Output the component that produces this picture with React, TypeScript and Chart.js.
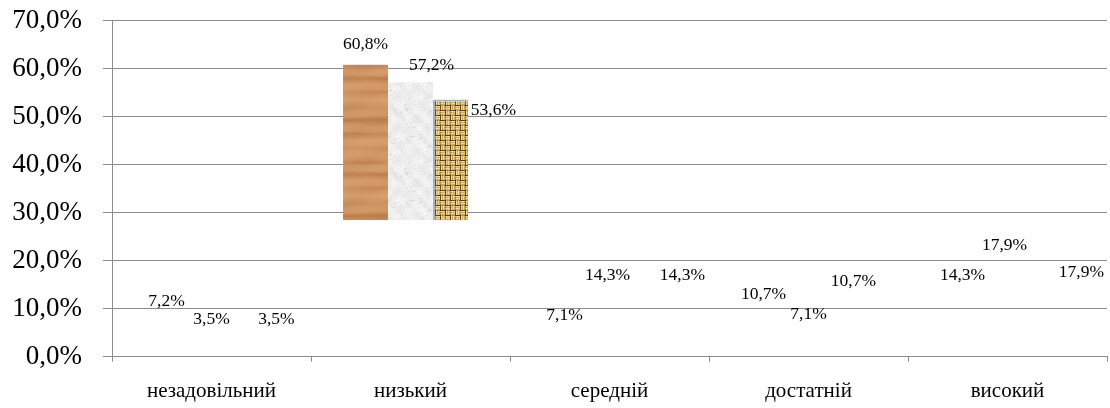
import React, { useEffect, useRef } from "react";
import { Chart, registerables } from "chart.js";

Chart.register(...registerables);

// Levels of achievement and the three series of shares (%)
const categories = ["незадовільний", "низький", "середній", "достатній", "високий"];
const seriesA = [7.2, 60.8, 7.1, 10.7, 14.3];
const seriesB = [3.5, 57.2, 14.3, 7.1, 17.9];
const seriesC = [3.5, 53.6, 14.3, 10.7, 17.9];

// Value axis
const axisMin = 0;
const axisMax = 70;
const axisStep = 10;

// Texture fills stop at this value (the lower part of the bars is left blank)
const textureFloor = 28.5;

// Label nudges in px: [dx from bar centre, dy from bar top]
const labelShiftA: [number, number][] = [[0, -21], [0, -20], [0, -7], [0, -11], [0, -13]];
const labelShiftB: [number, number][] = [[0, -20], [21, -17], [-2, -13], [0, -8], [-3, -25]];
const labelShiftC: [number, number][] = [[20, -20], [38, 11], [28, -13], [0, -24], [29, 2]];

const SERIF = "'Liberation Serif', 'Times New Roman', serif";
const GRID = "#8c8c8c";

const fmt = (v: number) => v.toFixed(1).replace(".", ",") + "%";

function rng(seed: number) {
  let s = seed >>> 0;
  return () => {
    s = (s + 0x6d2b79f5) >>> 0;
    let t = s;
    t = Math.imul(t ^ (t >>> 15), t | 1);
    t ^= t + Math.imul(t ^ (t >>> 7), t | 61);
    return ((t ^ (t >>> 14)) >>> 0) / 4294967296;
  };
}

function makeTile(w: number, h: number, paint: (img: ImageData) => void, blur = 0) {
  const c = document.createElement("canvas");
  c.width = w;
  c.height = h;
  const g = c.getContext("2d")!;
  const img = g.createImageData(w, h);
  paint(img);
  g.putImageData(img, 0, 0);
  if (!blur) return c;
  // lay the tile out 3x3 first, then blur the whole sheet so the edges wrap cleanly
  const sheet = document.createElement("canvas");
  sheet.width = w * 3;
  sheet.height = h * 3;
  const sg = sheet.getContext("2d")!;
  for (let i = 0; i < 3; i++) for (let j = 0; j < 3; j++) sg.drawImage(c, i * w, j * h);
  const out = document.createElement("canvas");
  out.width = w;
  out.height = h;
  const o = out.getContext("2d")!;
  o.filter = `blur(${blur}px)`;
  o.drawImage(sheet, -w, -h);
  return out;
}

function setPx(img: ImageData, x: number, y: number, r: number, g: number, b: number) {
  const i = (y * img.width + x) * 4;
  img.data[i] = Math.max(0, Math.min(255, r));
  img.data[i + 1] = Math.max(0, Math.min(255, g));
  img.data[i + 2] = Math.max(0, Math.min(255, b));
  img.data[i + 3] = 255;
}

// Light oak grain with faint horizontal streaks
function woodTile() {
  const r = rng(7);
  const H = 96;
  const rows: number[] = [];
  for (let y = 0; y < H; y++) {
    rows.push(
      0.22 * Math.sin((y * 2 * Math.PI * 7) / H) + 0.18 * Math.sin((y * 2 * Math.PI * 2) / H + 1.3) + (r() - 0.5) * 0.4
    );
  }
  return makeTile(
    64,
    H,
    (img) => {
      for (let y = 0; y < H; y++) {
        for (let x = 0; x < 64; x++) {
          let t = rows[y] + 0.12 * Math.sin((x * 2 * Math.PI) / 64 + y * 0.2) + (r() - 0.5) * 0.15;
          if (rows[y] < -0.3 && Math.sin((x * 2 * Math.PI) / 64 + y) > 0) t -= 0.3;
          const k = Math.max(-1, Math.min(1, t));
          const base = [207, 149, 98];
          const dark = [176, 112, 64];
          const light = [222, 172, 124];
          const tgt = k < 0 ? dark : light;
          const a = Math.abs(k);
          setPx(img, x, y, base[0] + (tgt[0] - base[0]) * a, base[1] + (tgt[1] - base[1]) * a, base[2] + (tgt[2] - base[2]) * a);
        }
      }
    },
    0.8
  );
}

// Pale marble / paper texture
function marbleTile() {
  const r = rng(11);
  const N = 64;
  return makeTile(
    N,
    N,
    (img) => {
      for (let y = 0; y < N; y++) {
        for (let x = 0; x < N; x++) {
          const s =
            Math.sin((x * 2 * Math.PI * 4) / N + Math.sin((y * 2 * Math.PI * 2) / N) * 2) * 0.5 +
            Math.sin((y * 2 * Math.PI * 4) / N + Math.cos((x * 2 * Math.PI * 2) / N) * 2) * 0.5;
          let v = 238 + s * 6 + (r() - 0.5) * 12;
          if (r() < 0.05) v -= 24;
          setPx(img, x, y, v, v, v);
        }
      }
    },
    0.6
  );
}

// Hessian / burlap basket weave
function burlapTile() {
  const r = rng(23);
  const cell = 5;
  return makeTile(
    cell * 4,
    cell * 4,
    (img) => {
      for (let y = 0; y < cell * 4; y++) {
        for (let x = 0; x < cell * 4; x++) {
          const cx = Math.floor(x / cell);
          const cy = Math.floor(y / cell);
          const lx = x % cell;
          const ly = y % cell;
          const horiz = (cx + cy) % 2 === 0;
          const along = horiz ? ly : lx;
          const across = horiz ? lx : ly;
          let c: number[];
          if (along === 0) c = [96, 66, 26];
          else if (along === 1 || along === 3) c = [240, 216, 150];
          else c = [206, 172, 98];
          if (across === 0 && along !== 0) c = [c[0] - 50, c[1] - 50, c[2] - 36];
          const n = (r() - 0.5) * 30;
          setPx(img, x, y, c[0] + n, c[1] + n, c[2] + n * 0.6);
        }
      }
    },
    0.5
  );
}

export default function App() {
  const canvasRef = useRef<HTMLCanvasElement | null>(null);

  useEffect(() => {
    document.body.style.margin = "0";
    const canvas = canvasRef.current;
    if (!canvas) return;
    const ctx2d = canvas.getContext("2d")!;

    const patterns = [
      ctx2d.createPattern(woodTile(), "repeat")!,
      ctx2d.createPattern(marbleTile(), "repeat")!,
      ctx2d.createPattern(burlapTile(), "repeat")!,
    ];
    // visible share of each bar's width
    const visibleWidth = [1, 1, 0.78];
    const shifts = [labelShiftA, labelShiftB, labelShiftC];

    const clipPlugin = {
      id: "textureClip",
      beforeDatasetDraw(chart: any, args: any) {
        const { ctx, chartArea, scales } = chart;
        const floorY = scales.y.getPixelForValue(textureFloor);
        const meta = chart.getDatasetMeta(args.index);
        const bar = meta.data[1];
        let right = chartArea.right;
        if (bar) {
          const w = bar.width;
          right = bar.x - w / 2 + w * visibleWidth[args.index];
        }
        ctx.save();
        ctx.beginPath();
        ctx.rect(chartArea.left, chartArea.top - 5, right - chartArea.left, floorY - chartArea.top + 5);
        ctx.clip();
      },
      afterDatasetDraw(chart: any) {
        chart.ctx.restore();
      },
    };

    const labelPlugin = {
      id: "valueLabels",
      afterDatasetsDraw(chart: any) {
        const { ctx, scales } = chart;
        ctx.save();
        ctx.font = `17.5px ${SERIF}`;
        ctx.fillStyle = "#000";
        ctx.textAlign = "center";
        ctx.textBaseline = "middle";
        chart.data.datasets.forEach((ds: any, di: number) => {
          const meta = chart.getDatasetMeta(di);
          meta.data.forEach((bar: any, i: number) => {
            const v = ds.data[i] as number;
            const [dx, dy] = shifts[di][i];
            ctx.fillText(fmt(v), bar.x + dx, scales.y.getPixelForValue(v) + dy);
          });
        });
        ctx.restore();
      },
    };

    const fillFor = (di: number) => (c: any) => (c.dataIndex === 1 ? patterns[di] : "rgba(0,0,0,0)");

    const chart = new Chart(canvas, {
      type: "bar",
      data: {
        labels: categories,
        datasets: [
          { label: "A", data: seriesA, backgroundColor: fillFor(0), borderWidth: 0 },
          { label: "B", data: seriesB, backgroundColor: fillFor(1), borderWidth: 0 },
          {
            label: "C",
            data: seriesC,
            backgroundColor: fillFor(2),
            borderColor: (c: any) => (c.dataIndex === 1 ? "#a4b2c4" : "rgba(0,0,0,0)"),
            borderWidth: { top: 2, left: 2, right: 0, bottom: 0 },
            borderSkipped: false,
          },
        ],
      },
      options: {
        animation: false,
        responsive: false,
        maintainAspectRatio: false,
        layout: { padding: { top: 20.7, right: 3, left: 0, bottom: 0 } },
        datasets: { bar: { categoryPercentage: 0.678, barPercentage: 1 } },
        plugins: {
          legend: { display: false },
          tooltip: { enabled: false },
        },
        scales: {
          x: {
            afterFit: (s: any) => {
              s.height = 51.3;
              s.paddingLeft = 0;
              s.paddingRight = 0;
            },
            grid: {
              offset: true,
              drawOnChartArea: false,
              drawTicks: true,
              tickLength: 5,
              color: GRID,
            },
            border: { display: true, color: GRID, width: 1 },
            ticks: {
              padding: 17,
              color: "#000",
              font: { family: SERIF, size: 21 },
              maxRotation: 0,
              autoSkip: false,
            },
          },
          y: {
            min: axisMin,
            max: axisMax,
            afterFit: (s: any) => {
              s.width = 112;
              s.paddingTop = 0;
              s.paddingBottom = 0;
            },
            grid: { color: GRID, lineWidth: 1, drawTicks: true, tickLength: 9 },
            border: { display: true, color: GRID, width: 1 },
            ticks: {
              stepSize: axisStep,
              padding: 21,
              color: "#000",
              font: { family: SERIF, size: 27 },
              callback: (v: any) => fmt(Number(v)),
            },
          },
        },
      },
      plugins: [clipPlugin, labelPlugin],
    });

    return () => chart.destroy();
  }, []);

  return (
    <div style={{ width: 1110, height: 408, background: "#fff" }}>
      <canvas ref={canvasRef} width={1110} height={408} style={{ display: "block" }} />
    </div>
  );
}
